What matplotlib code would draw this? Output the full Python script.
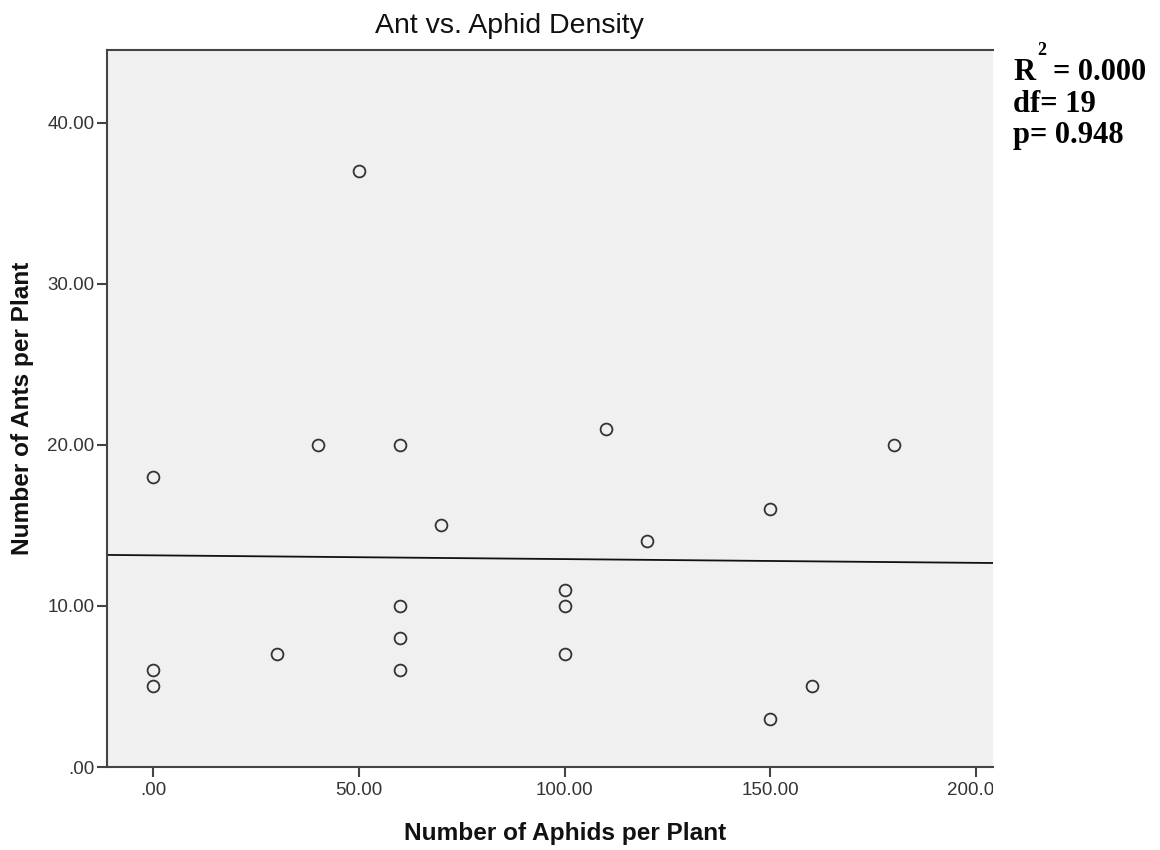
import numpy as np
import matplotlib
matplotlib.use("Agg")
import matplotlib.pyplot as plt
from matplotlib import transforms
from matplotlib.transforms import Bbox, TransformedBbox

# ---- data ----
aphids = [0, 0, 0, 30, 40, 50, 60, 60, 60, 60, 70, 100, 100, 100, 110, 120, 150, 150, 160, 180]
ants = [18, 6, 5, 7, 20, 37, 20, 10, 8, 6, 15, 11, 10, 7, 21, 14, 16, 3, 5, 20]
x_ticks = [0, 50, 100, 150, 200]
x_tick_labels = [".00", "50.00", "100.00", "150.00", "200.00"]
y_ticks = [0, 10, 20, 30, 40]
y_tick_labels = [".00", "10.00", "20.00", "30.00", "40.00"]
title = "Ant vs. Aphid Density"
xlabel = "Number of Aphids per Plant"
ylabel = "Number of Ants per Plant"
stats_r2 = "= 0.000"
stats_df = "df= 19"
stats_p = "p= 0.948"

W, H = 1160, 850
fig = plt.figure(figsize=(W / 100, H / 100), dpi=100)

def fx(px):
    return px / W

def fy(py):
    return 1 - py / H

left, right, top, bottom = 107, 993, 50, 767
ax = fig.add_axes([fx(left), fy(bottom), fx(right - left), (bottom - top) / H])
ax.set_facecolor("#f0f0f0")

xlim = (-11.3, 204.1)
ylim = (0, 44.5)
ax.set_xlim(*xlim)
ax.set_ylim(*ylim)

# regression line
slope, intercept = np.polyfit(np.array(aphids, float), np.array(ants, float), 1)
xs = np.array(xlim)
ax.plot(xs, slope * xs + intercept, color="#111111", lw=1.3, zorder=2)

ax.plot(aphids, ants, linestyle="none", marker="o", markersize=8.5,
        markerfacecolor="none", markeredgecolor="#333333", markeredgewidth=1.3, zorder=3)

for s in ["left", "bottom", "top"]:
    ax.spines[s].set_color("#444444")
    ax.spines[s].set_linewidth(1.5)
ax.spines["right"].set_visible(False)

ax.set_xticks(x_ticks)
ax.set_xticklabels(x_tick_labels)
ax.set_yticks(y_ticks)
ax.set_yticklabels(y_tick_labels)
ax.tick_params(axis="both", direction="out", length=7.5, width=1.5, color="#444444",
               labelsize=13.5, labelcolor="#333333")
ax.tick_params(axis="x", pad=3)
ax.tick_params(axis="y", pad=1.5)
for lbl in ax.get_xticklabels() + ax.get_yticklabels():
    lbl.set_fontfamily("Liberation Sans")

# clip x tick labels at the right edge of the axes
clip_tr = transforms.blended_transform_factory(ax.transAxes, fig.transFigure)
clip_box = TransformedBbox(Bbox([[-1, 0], [1, 1]]), clip_tr)
for lbl in ax.get_xticklabels():
    lbl.set_clip_box(clip_box)
    lbl.set_clip_on(True)

fig.text(fx(509), fy(33), title, ha="center", va="baseline",
         fontsize=20.5, family="Liberation Sans", color="#111111")
fig.text(fx(565), fy(840), xlabel, ha="center", va="baseline",
         fontsize=17.6, fontweight="bold", family="Liberation Sans", color="#111111")
fig.text(fx(22.5), fy(408), ylabel, ha="center", va="center", rotation=90,
         fontsize=17.6, fontweight="bold", family="Liberation Sans", color="#111111")

serif = dict(family="Liberation Serif", fontweight="bold", color="black")
fig.text(fx(1013), fy(80), "R", ha="left", va="baseline", fontsize=22, **serif)
fig.text(fx(1037), fy(55), "2", ha="left", va="baseline", fontsize=13, **serif)
fig.text(fx(1053), fy(80), stats_r2, ha="left", va="baseline", fontsize=22, **serif)
fig.text(fx(1013), fy(112), stats_df, ha="left", va="baseline", fontsize=22, **serif)
fig.text(fx(1013), fy(143), stats_p, ha="left", va="baseline", fontsize=22, **serif)

fig.savefig("out.png", dpi=100)
